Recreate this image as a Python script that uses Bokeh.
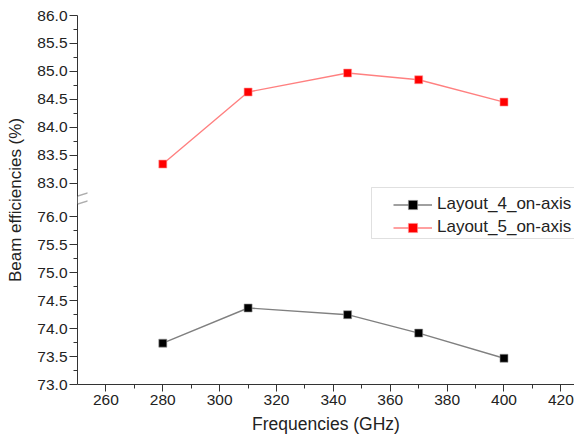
from bokeh.plotting import figure
from bokeh.models import (Range1d, FixedTicker, CustomJSTickFormatter, Legend,
                          LegendItem, BoxAnnotation, PolyAnnotation)
from bokeh.embed import file_html
from bokeh.resources import INLINE

# ---- data ----
freqs = [280, 310, 345, 370, 400]
layout4 = [73.74, 74.37, 74.25, 73.92, 73.47]
layout5 = [83.34, 84.63, 84.97, 84.85, 84.45]
series_names = ["Layout_4_on-axis", "Layout_5_on-axis"]
x_ticks = [260, 280, 300, 320, 340, 360, 380, 400, 420]
lower_ticks = [73.0, 73.5, 74.0, 74.5, 75.0, 75.5, 76.0]
upper_ticks = [83.0, 83.5, 84.0, 84.5, 85.0, 85.5, 86.0]
x_label = "Frequencies (GHz)"
y_label = "Beam efficiencies (%)"

# ---- broken y axis: fold the upper segment down onto the lower one ----
LOW_MIN, LOW_MAX = lower_ticks[0], lower_ticks[-1]
UP_MIN, UP_MAX = upper_ticks[0], upper_ticks[-1]
GAP = 0.607
OFF = UP_MIN - (LOW_MAX + GAP)


def fold(v):
    return v - OFF if v >= UP_MIN - 1e-9 else v


Y_START, Y_END = LOW_MIN, fold(UP_MAX)
X_START, X_END = 250, 424.8

W, H = 574, 443
LEFT, TOP, BOTTOM = 77, 15, 59
FONT = "Liberation Sans"

p = figure(width=W, height=H, output_backend="svg", toolbar_location=None,
           x_range=Range1d(X_START, X_END), y_range=Range1d(Y_START, Y_END),
           min_border_left=LEFT, min_border_right=0, min_border_top=TOP,
           min_border_bottom=BOTTOM)
p.outline_line_color = None
p.xgrid.visible = False
p.ygrid.visible = False
p.background_fill_color = "white"

# ticks
def mids(t):
    return [(a + b) / 2 for a, b in zip(t[:-1], t[1:])]

y_major = [fold(v) for v in lower_ticks] + [fold(v) for v in upper_ticks]
y_minor = [fold(v) for v in mids(lower_ticks)] + [fold(v) for v in mids(upper_ticks)]
p.yaxis.ticker = FixedTicker(ticks=y_major, minor_ticks=y_minor)
p.yaxis.formatter = CustomJSTickFormatter(
    args=dict(off=OFF, lim=LOW_MAX + GAP / 2),
    code="return (tick > lim ? tick + off : tick).toFixed(1);")
p.xaxis.ticker = FixedTicker(ticks=x_ticks, minor_ticks=mids(x_ticks))

for ax in (p.xaxis[0], p.yaxis[0]):
    ax.axis_line_color = "#333333"
    ax.major_tick_line_color = "#333333"
    ax.minor_tick_line_color = "#333333"
    ax.major_tick_in = 0
    ax.minor_tick_in = 0
    ax.major_label_text_font = FONT
    ax.major_label_text_font_size = "15.5px"
    ax.major_label_text_color = "#222222"
    ax.axis_label_text_font = FONT
    ax.axis_label_text_font_style = "normal"
    ax.axis_label_text_color = "#222222"

p.xaxis.axis_label_text_font_size = "17.5px"
p.yaxis.axis_label_text_font_size = "17px"
p.xaxis.major_tick_out = 7
p.xaxis.minor_tick_out = 4
p.yaxis.major_tick_out = 8
p.yaxis.minor_tick_out = 4
p.xaxis.major_label_standoff = 3
p.yaxis.major_label_standoff = 2
p.xaxis.axis_label = x_label
p.yaxis.axis_label = y_label
p.xaxis.axis_label_standoff = 6
p.yaxis.axis_label_standoff = 9

# series
y4 = [fold(v) for v in layout4]
y5 = [fold(v) for v in layout5]
l4 = p.line(freqs, y4, line_color="#808080", line_width=1.4)
m4 = p.scatter(freqs, y4, marker="square", size=8, fill_color="black",
               line_color="#999999", line_width=0.6)
l5 = p.line(freqs, y5, line_color="#ff8080", line_width=1.4)
m5 = p.scatter(freqs, y5, marker="square", size=8, fill_color="#ff0000",
               line_color="#ff9999", line_width=0.6)

# axis break marks (two slanted strokes with a gap in the axis line between)
ppu = (H - TOP - BOTTOM) / (Y_END - Y_START)
yc = TOP + (Y_END - (LOW_MAX + GAP / 2)) * ppu
d, sl, x0, x1, th = 4.0, 3.0, LEFT - 9, LEFT + 10, 1.5
p.add_layout(PolyAnnotation(xs=[x0, x1, x1, x0],
                            ys=[yc - d + sl, yc - d - sl, yc + d - sl, yc + d + sl],
                            xs_units="canvas", ys_units="canvas",
                            fill_color="white", line_color=None))
for s in (-d, d):
    p.add_layout(PolyAnnotation(
        xs=[x0, x1, x1, x0],
        ys=[yc + s + sl - th / 2, yc + s - sl - th / 2,
            yc + s - sl + th / 2, yc + s + sl + th / 2],
        xs_units="canvas", ys_units="canvas",
        fill_color="#333333", line_color=None))

# legend frame + legend
p.add_layout(BoxAnnotation(left=371, right=W + 40, top=187, bottom=238,
                           left_units="canvas", right_units="canvas",
                           top_units="canvas", bottom_units="canvas",
                           fill_color="white", fill_alpha=1,
                           line_color="#999999", line_width=1))
legend = Legend(items=[LegendItem(label=series_names[0], renderers=[l4, m4]),
                       LegendItem(label=series_names[1], renderers=[l5, m5])],
                location=(393 - LEFT, H - BOTTOM - 238.5),
                padding=0, spacing=0, margin=0,
                glyph_width=39, glyph_height=23, label_height=23,
                label_standoff=5,
                label_text_font=FONT, label_text_font_size="17px",
                label_text_color="#222222",
                border_line_color=None, background_fill_alpha=0)
p.add_layout(legend)

open("out.html", "w").write(file_html(p, INLINE))
